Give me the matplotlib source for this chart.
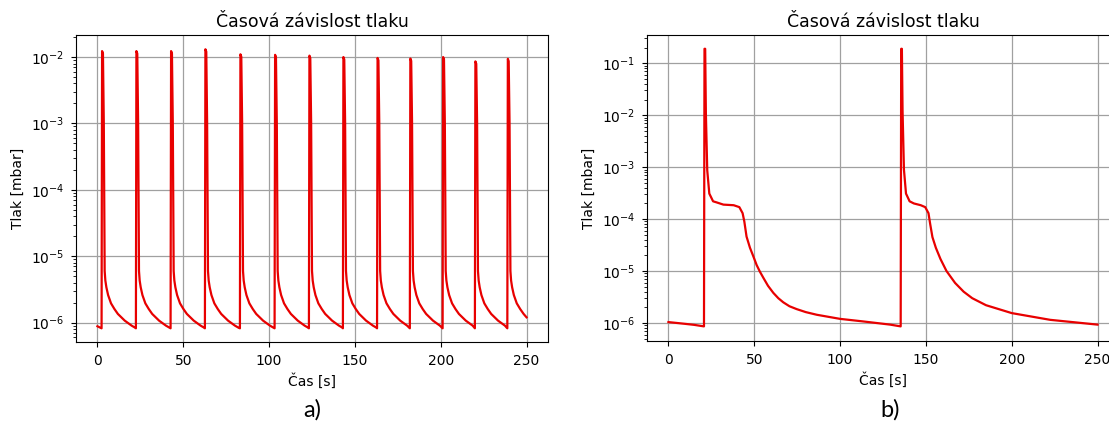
import matplotlib
matplotlib.use('Agg')
import matplotlib.pyplot as plt

# panel a) - spike times (rise start), peak values and the shared decay shape
spike_t_a = [2.4, 22.4, 42.6, 62.6, 83.0, 103.2, 123.2, 143.0, 162.9, 182.0, 201.1, 219.9, 238.8]
spike_p_a = [1.23e-2, 1.23e-2, 1.23e-2, 1.31e-2, 1.1e-2, 1.08e-2, 1.05e-2, 1.0e-2, 0.97e-2, 0.95e-2, 1.0e-2, 0.86e-2, 0.94e-2]
start_t_a = [0.0, 1.2]
start_p_a = [8.8e-7, 8.5e-7]
decay_dt_a = [1.3, 1.8, 2.2, 2.8, 3.8, 5.5, 7.5, 9.5, 11.5, 13.5, 15.5, 17.5, 19.5]
decay_p_a = [1e-3, 6e-6, 4.3e-6, 3.4e-6, 2.6e-6, 1.95e-6, 1.6e-6, 1.35e-6, 1.2e-6, 1.07e-6, 0.98e-6, 0.9e-6, 0.84e-6]
base_a = 8.2e-7
end_t_a = 250.0
end_p_a = 1.2e-6

# panel b)
t_b = [0, 5, 10, 15, 20.7, 21.0, 21.4, 21.8, 22.6, 23.8, 26.0, 28.0, 32.0, 38.0, 41.3,
       43.2, 44.2, 45.5, 47.5, 49.5, 51.4, 53.3, 55.3, 58.0, 61.1, 64.0, 66.9, 70.5, 74.7,
       80.0, 86.4, 100.0, 113.6, 129.2,
       135.3, 135.6, 136.0, 136.4, 137.2, 138.4, 140.5, 143.0, 147.0, 149.6, 151.5, 152.5,
       153.8, 155.8, 158.5, 162.0, 167.0, 172.0, 177.0, 185.0, 200.0, 222.4, 250.0]
p_b = [1.04e-6, 1.0e-6, 0.96e-6, 0.92e-6, 0.86e-6, 0.19, 0.19, 1.1e-2, 8.7e-4, 3.1e-4,
       2.2e-4, 2.1e-4, 1.9e-4, 1.85e-4, 1.7e-4, 1.3e-4, 9e-5, 4.6e-5, 2.8e-5, 1.9e-5, 1.3e-5,
       9.7e-6, 7.4e-6, 5.2e-6, 3.8e-6, 3.0e-6, 2.5e-6, 2.1e-6, 1.85e-6,
       1.62e-6, 1.44e-6, 1.2e-6, 1.07e-6, 9.3e-7, 0.86e-6,
       0.19, 0.19, 1.2e-2, 9e-4, 3.1e-4, 2.2e-4, 2.0e-4, 1.85e-4, 1.7e-4, 1.3e-4, 8e-5,
       4.5e-5, 2.8e-5, 1.7e-5, 1.0e-5, 5.9e-6, 4.0e-6, 3.0e-6, 2.2e-6, 1.55e-6, 1.15e-6, 9.3e-7]

# build the a) curve out of the read values
t_a = list(start_t_a)
p_a = list(start_p_a)
for i, t0 in enumerate(spike_t_a):
    t_next = spike_t_a[i + 1] if i + 1 < len(spike_t_a) else end_t_a
    t_a += [t0, t0 + 0.3, t0 + 0.8]
    p_a += [base_a, spike_p_a[i], spike_p_a[i] * 0.92]
    for dt, p in zip(decay_dt_a, decay_p_a):
        if t0 + dt < t_next - 0.2:
            t_a.append(t0 + dt)
            p_a.append(p)
t_a.append(end_t_a)
p_a.append(end_p_a)

fig = plt.figure(figsize=(11.09, 4.23), dpi=100)
ax1 = fig.add_axes([76 / 1109, 81 / 423, 472 / 1109, 307 / 423])
ax2 = fig.add_axes([647 / 1109, 82 / 423, 472 / 1109, 306 / 423])

ax1.plot(t_a, p_a, color='#e80000', linewidth=1.6)
ax2.plot(t_b, p_b, color='#e80000', linewidth=1.6)

ax1.set_ylim(5.1e-7, 2.15e-2)
ax2.set_ylim(4.5e-7, 0.35)

for ax in (ax1, ax2):
    ax.set_yscale('log')
    ax.set_xlim(-12.5, 262.5)
    ax.set_xticks([0, 50, 100, 150, 200, 250])
    ax.grid(True, which='major', color='#a0a0a0', linewidth=0.9)
    ax.set_title("Časová závislost tlaku", fontsize=12.5, pad=6)
    ax.set_xlabel("Čas [s]", fontsize=10)
    ax.set_ylabel("Tlak [mbar]", fontsize=10)
    ax.tick_params(labelsize=10, pad=5)

fig.text(312 / 1109, 1 - 410 / 423, "a)", fontsize=17, ha='center', va='center', family='Lato')
fig.text(890 / 1109, 1 - 410 / 423, "b)", fontsize=17, ha='center', va='center', family='Lato')

fig.savefig('out.png', dpi=100)
